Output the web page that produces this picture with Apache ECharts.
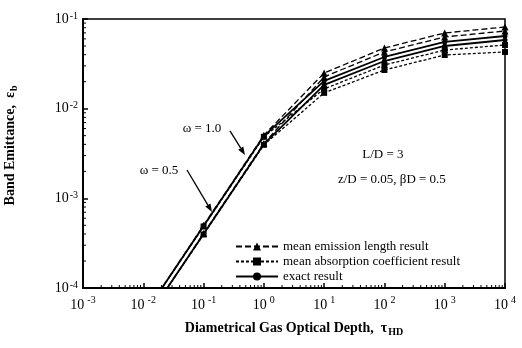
<!DOCTYPE html>
<html><head><meta charset="utf-8">
<script src="https://cdn.jsdelivr.net/npm/echarts@6/dist/echarts.min.js"></script>
<style>html,body{margin:0;padding:0;background:#fff}#c{width:522px;height:348px}</style>
</head><body><div id="c"></div>
<script>
// Diametrical gas optical depth (x) values
const tau = [0.01, 0.1, 1, 10, 100, 1000, 10000];
// Band emittance values for each method and albedo
const mel_w10   = [4.9e-5, 5.0e-4, 5.05e-3, 0.0250, 0.0475, 0.0698, 0.0815];
const mel_w05   = [4.0e-5, 4.05e-4, 4.10e-3, 0.0226, 0.0429, 0.0631, 0.0735];
const exact_w10 = [4.9e-5, 4.9e-4, 4.95e-3, 0.0204, 0.0377, 0.0555, 0.0646];
const exact_w05 = [4.0e-5, 4.0e-4, 4.02e-3, 0.0184, 0.0340, 0.0500, 0.0583];
const mac_w10   = [4.9e-5, 4.85e-4, 4.85e-3, 0.0166, 0.0307, 0.0451, 0.0513];
const mac_w05   = [4.0e-5, 3.95e-4, 3.95e-3, 0.0150, 0.0270, 0.0397, 0.0429];
const legendNames = ['mean emission length result', 'mean absorption coefficient result', 'exact result'];
// annotation anchors in data space [tau, emittance]
const annW10Text = [0.094, 5.94e-3], annW10From = [0.274, 5.64e-3], annW10Tip = [0.486, 3.05e-3];
const annW05Text = [0.0182, 2.02e-3], annW05From = [0.0531, 2.07e-3], annW05Tip = [0.138, 7.05e-4];
const annLD = [94.4, 3.05e-3], annZD = [133, 1.6e-3];

const SERIF = '"Liberation Serif","DejaVu Serif",serif';
const chart = echarts.init(document.getElementById('c'));

function mk(name, ys, dash, sym, size, w) {
  return {
    type: 'line', name: name,
    data: tau.map((t, i) => i === 0 ? { value: [t, ys[i]], symbol: 'none' } : [t, ys[i]]),
    symbol: sym, symbolSize: size, showSymbol: true, clip: true, silent: true,
    lineStyle: { color: '#000', width: w, type: dash },
    itemStyle: { color: '#000' }
  };
}
function expLabel(v) {
  const e = Math.round(Math.log10(v));
  return '{b|10}{s|' + e + '}';
}
const richX = {
  b: { fontFamily: SERIF, fontSize: 14, color: '#000' },
  s: { fontFamily: SERIF, fontSize: 10, color: '#000', padding: [0, 0, 10, 3] }
};
const richY = {
  b: { fontFamily: SERIF, fontSize: 14, color: '#000' },
  s: { fontFamily: SERIF, fontSize: 10, color: '#000', padding: [0, 0, 6, 1] }
};

chart.setOption({
  animation: false,
  backgroundColor: '#fff',
  grid: { left: 83, right: 17, top: 19, bottom: 60, show: true, borderColor: '#000', borderWidth: 1.5, outerBoundsMode: 'none', containLabel: false },
  legend: {
    data: legendNames, orient: 'vertical', left: 230, top: 235,
    itemWidth: 42, itemHeight: 10, itemGap: 2,
    textStyle: { fontFamily: SERIF, fontSize: 13, color: '#000', lineHeight: 13 }
  },
  xAxis: {
    type: 'log', logBase: 10, min: 0.001, max: 10000,
    axisLine: { lineStyle: { color: '#000', width: 2 } },
    axisTick: { inside: true, length: 5, lineStyle: { color: '#000', width: 1.5 } },
    splitLine: { show: false },
    axisLabel: { formatter: expLabel, rich: richX, margin: 7 },
    name: '{t|Diametrical Gas Optical Depth,  τ}{sub|HD}',
    nameLocation: 'middle', nameGap: 31,
    nameTextStyle: { rich: {
      t: { fontFamily: SERIF, fontSize: 14, fontWeight: 'bold', color: '#000' },
      sub: { fontFamily: SERIF, fontSize: 10, fontWeight: 'bold', color: '#000', padding: [8, 0, 0, 1] }
    } }
  },
  yAxis: {
    type: 'log', logBase: 10, min: 0.0001, max: 0.1,
    axisLine: { lineStyle: { color: '#000', width: 2 } },
    axisTick: { inside: true, length: 5, lineStyle: { color: '#000', width: 1.5 } },
    splitLine: { show: false },
    axisLabel: { formatter: expLabel, rich: richY, margin: 5 },
    name: '{t|Band Emittance,  ε}{sub|b}',
    nameLocation: 'middle', nameGap: 64,
    nameTextStyle: { padding: [0, 0, 0, 16], rich: {
      t: { fontFamily: SERIF, fontSize: 14, fontWeight: 'bold', color: '#000' },
      sub: { fontFamily: SERIF, fontSize: 10, fontWeight: 'bold', color: '#000', padding: [8, 0, 0, 1] }
    } }
  },
  series: [
    mk(legendNames[0], mel_w10, [6, 3], 'triangle', 7, 1.3),
    mk(legendNames[0], mel_w05, [6, 3], 'triangle', 7, 1.3),
    mk(legendNames[1], mac_w10, [3, 2], 'rect', 6, 1.3),
    mk(legendNames[1], mac_w05, [3, 2], 'rect', 6, 1.3),
    mk(legendNames[2], exact_w10, 'solid', 'circle', 5, 1.8),
    mk(legendNames[2], exact_w05, 'solid', 'circle', 5, 1.8)
  ]
});

function px(p) { return chart.convertToPixel({ xAxisIndex: 0, yAxisIndex: 0 }, p); }
const g = [];
// minor ticks
for (let d = -3; d <= 3; d++) for (let k = 2; k <= 9; k++) {
  const p = px([k * Math.pow(10, d), 1e-4]);
  g.push({ type: 'line', silent: true, shape: { x1: p[0], y1: p[1], x2: p[0], y2: p[1] - 3 }, style: { stroke: '#000', lineWidth: 1 } });
}
for (let d = -4; d <= -2; d++) for (let k = 2; k <= 9; k++) {
  const p = px([0.001, k * Math.pow(10, d)]);
  g.push({ type: 'line', silent: true, shape: { x1: p[0], y1: p[1], x2: p[0] + 3, y2: p[1] }, style: { stroke: '#000', lineWidth: 1 } });
}
function arrow(a, b) {
  const p = px(a), q = px(b);
  const dx = q[0] - p[0], dy = q[1] - p[1], L = Math.hypot(dx, dy);
  const ux = dx / L, uy = dy / L, h = 8, w = 3;
  const bx = q[0] - ux * h, by = q[1] - uy * h;
  g.push({ type: 'line', silent: true, shape: { x1: p[0], y1: p[1], x2: bx, y2: by }, style: { stroke: '#000', lineWidth: 1.3 } });
  g.push({ type: 'polygon', silent: true, shape: { points: [[q[0], q[1]], [bx - uy * w, by + ux * w], [bx + uy * w, by - ux * w]] }, style: { fill: '#000' } });
}
function txt(a, s) {
  const p = px(a);
  g.push({ type: 'text', silent: true, x: p[0], y: p[1], style: { text: s, fill: '#000', font: '13px ' + SERIF, align: 'center', verticalAlign: 'middle' } });
}
txt(annW10Text, 'ω = 1.0'); arrow(annW10From, annW10Tip);
txt(annW05Text, 'ω = 0.5'); arrow(annW05From, annW05Tip);
txt(annLD, 'L/D = 3');
txt(annZD, 'z/D = 0.05, βD = 0.5');
chart.setOption({ graphic: g });
</script>
</body></html>
